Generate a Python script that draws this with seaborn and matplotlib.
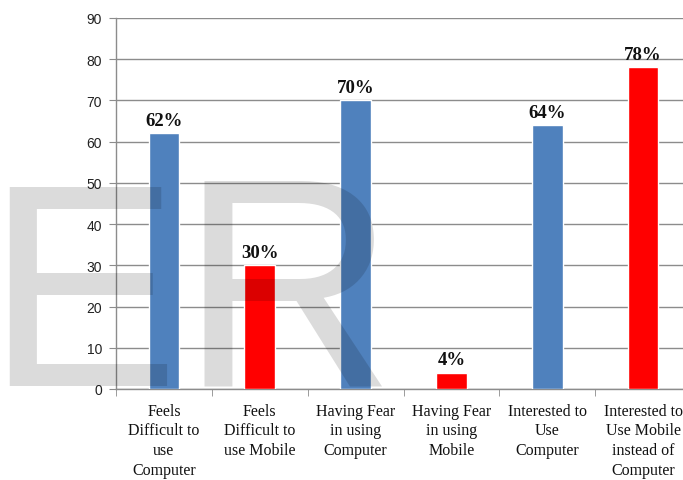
import matplotlib
matplotlib.use("Agg")
import matplotlib.pyplot as plt
import seaborn as sns
import numpy as np

categories = ["Feels\nDifficult to\nuse\nComputer",
              "Feels\nDifficult to\nuse Mobile",
              "Having Fear\nin using\nComputer",
              "Having Fear\nin using\nMobile",
              "Interested to\nUse\nComputer",
              "Interested to\nUse Mobile\ninstead of\nComputer"]
values = [62, 30, 70, 4, 64, 78]
labels = ["62%", "30%", "70%", "4%", "64%", "78%"]
colors = ["#4F81BD", "#FF0000", "#4F81BD", "#FF0000", "#4F81BD", "#FF0000"]
yticks = [0, 10, 20, 30, 40, 50, 60, 70, 80, 90]

sns.set_style("white")
W, H = 683, 481
fig = plt.figure(figsize=(W / 100, H / 100), dpi=100)
ax = fig.add_axes([116 / W, (H - 390) / H, 575 / W, 371 / H])

sns.barplot(x=categories, y=values, hue=categories, palette=colors,
            legend=False, width=0.32, ax=ax, saturation=1, zorder=3)

ax.set_ylim(0, 90)
ax.set_xlim(-0.5, 5.5)
ax.set_yticks(yticks)
ax.set_yticklabels([str(t) for t in yticks], fontfamily="Liberation Sans",
                   fontsize=10, color="#222222")
ax.yaxis.grid(True, color="#8c8c8c", linewidth=1.0, zorder=0)
ax.set_axisbelow(True)
for s in ["top", "right"]:
    ax.spines[s].set_visible(False)
for s in ["left", "bottom"]:
    ax.spines[s].set_color("#8c8c8c")
    ax.spines[s].set_linewidth(1.0)
ax.tick_params(axis="y", which="major", left=True, length=5, color="#8c8c8c", pad=5)

# category ticks at boundaries
ax.set_xticks(np.arange(len(values)))
ax.set_xticklabels(categories, fontfamily="Liberation Serif", fontsize=11.5,
                   linespacing=1.3, color="#111111")
ax.tick_params(axis="x", which="major", length=0, pad=10)
ax.set_xticks(np.arange(len(values) + 1) - 0.5, minor=True)
ax.tick_params(axis="x", which="minor", bottom=True, length=5, color="#8c8c8c")

for i, (v, lab) in enumerate(zip(values, labels)):
    ax.annotate(lab, (i, v), xytext=(0, 3), textcoords="offset points",
                ha="center", va="bottom", fontfamily="Liberation Serif",
                fontweight="bold", fontsize=13.5, color="#111111", zorder=5)

ax.set_xlabel("")
ax.set_ylabel("")

# watermark
fs = 209
fig.text(-15 / W, (H - 386) / H, "E", fontfamily="Liberation Sans", fontsize=fs,
         color="black", alpha=0.14, ha="left", va="baseline", zorder=10)
fig.text(180 / W, (H - 386) / H, "R", fontfamily="Liberation Sans", fontsize=fs * 1.03,
         color="black", alpha=0.14, ha="left", va="baseline", zorder=10)

fig.savefig("out.png", dpi=100)
